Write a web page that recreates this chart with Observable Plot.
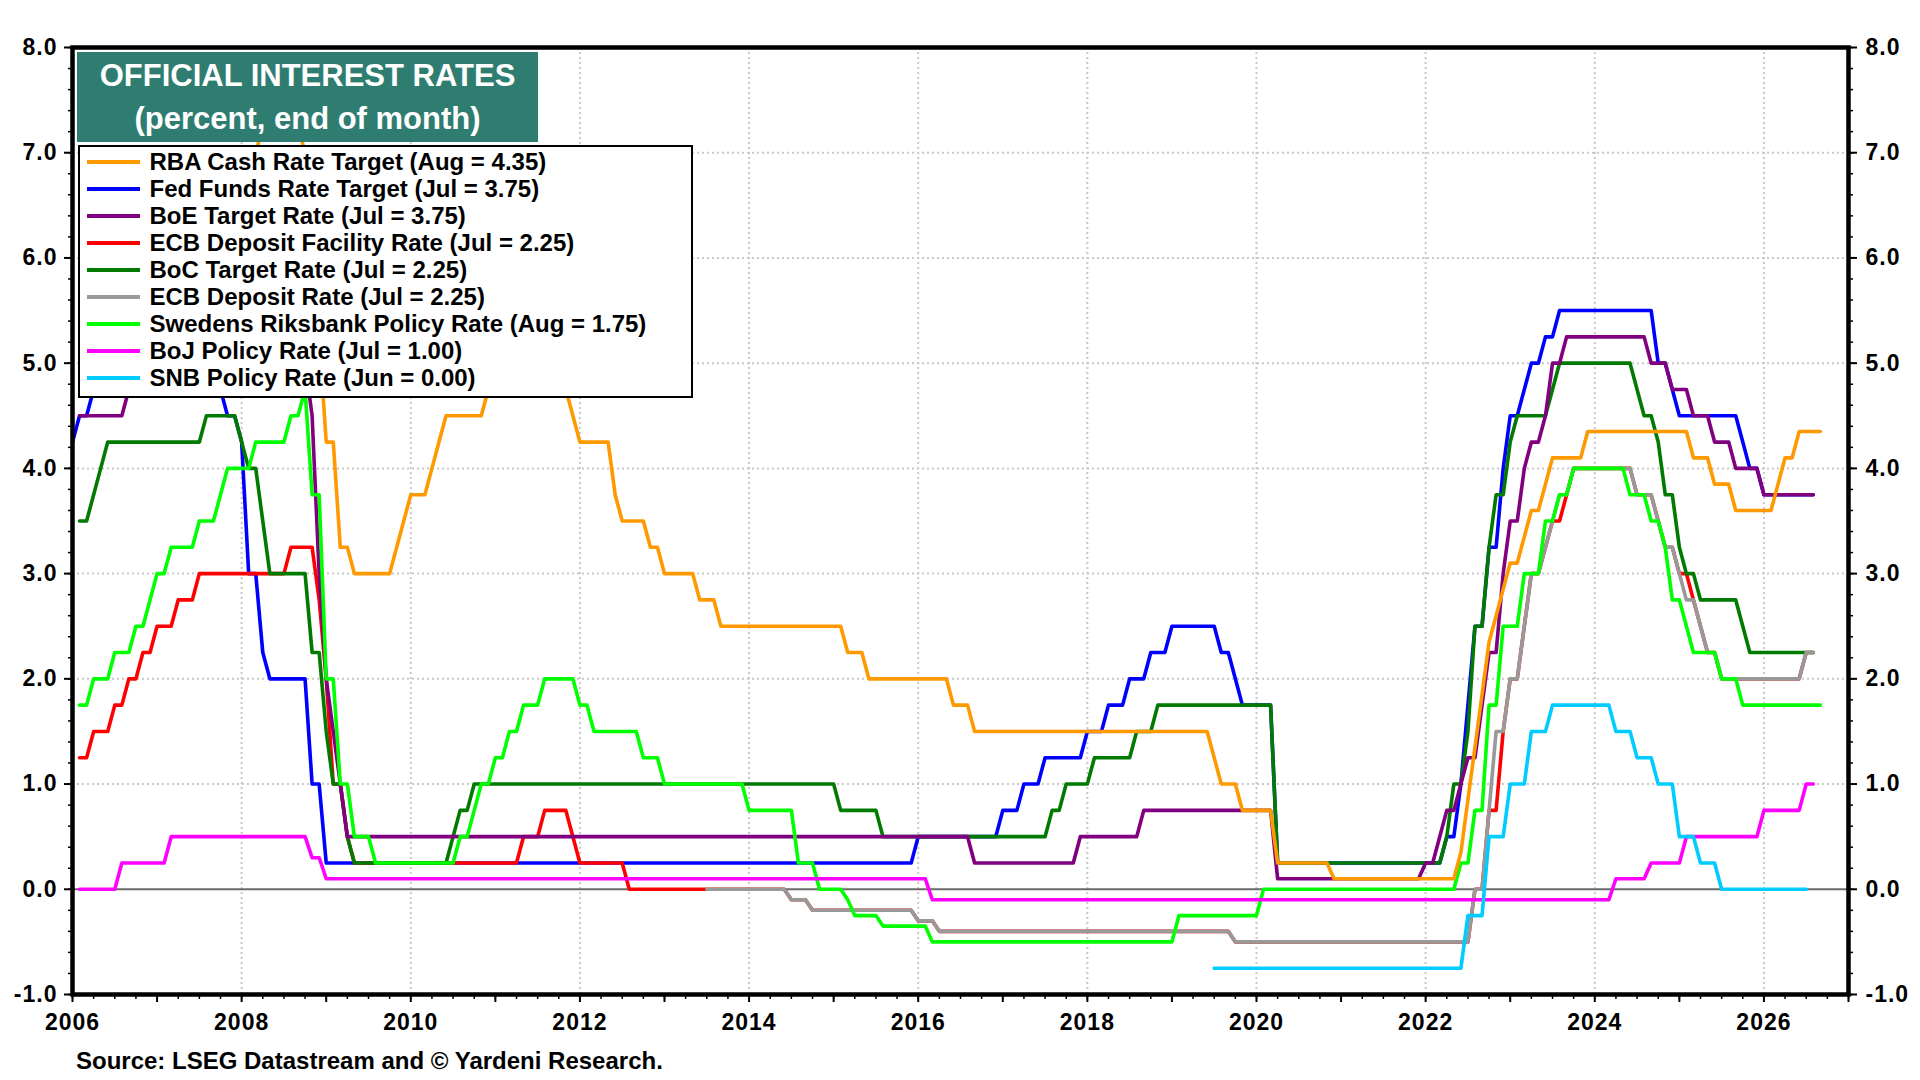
<!DOCTYPE html>
<html>
<head>
<meta charset="utf-8">
<script src="https://cdn.jsdelivr.net/npm/d3@7"></script>
<script src="https://cdn.jsdelivr.net/npm/@observablehq/plot@0.6"></script>
<style>
  html, body { margin: 0; padding: 0; background: #fff; }
  #wrap { position: relative; width: 1920px; height: 1080px; overflow: hidden; background: #fff;
          font-family: "Liberation Sans", Arial, sans-serif; }
  #chart { position: absolute; left: 0; top: 0; }
  #chart svg text { font-weight: bold; letter-spacing: 1px; fill: #000; }
  #title { position: absolute; left: 77px; top: 52px; width: 461px; height: 90px; background: #2E7D70;
           color: #fff; font-weight: bold; font-size: 31px; line-height: 43px; text-align: center;
           padding-top: 2px; box-sizing: border-box; }
  #legend { position: absolute; left: 78px; top: 145px; width: 615px; height: 253px; background: #fff;
            border: 2.5px solid #000; box-sizing: border-box; }
  .row { position: absolute; left: 0; height: 27px; width: 100%; }
  .sw { position: absolute; left: 6.5px; top: 11.5px; width: 53px; height: 4.5px; }
  .lab { position: absolute; left: 69.5px; top: 0; line-height: 27px; font-size: 24px; font-weight: bold;
         color: #000; white-space: nowrap; }
  #source { position: absolute; left: 76px; top: 1049px; font-size: 24px; line-height: 24px; font-weight: bold;
            color: #000; white-space: nowrap; }
</style>
</head>
<body>
<div id="wrap">
  <div id="chart"></div>
  <div id="title">OFFICIAL INTEREST RATES<br>(percent, end of month)</div>
  <div id="legend"></div>
  <div id="source">Source: LSEG Datastream and © Yardeni Research.</div>
</div>
<script>
// ---------------- DATA (vertices of each monthly end-of-month series) ----------------
const rbaRate = [["2006-01",5.50],["2006-04",5.50],["2006-05",5.75],["2006-07",5.75],["2006-08",6.00],["2006-10",6.00],["2006-11",6.25],["2007-07",6.25],["2007-08",6.50],["2007-10",6.50],["2007-11",6.75],["2008-01",6.75],["2008-02",7.00],["2008-03",7.25],["2008-08",7.25],["2008-09",7.00],["2008-10",6.00],["2008-11",5.25],["2008-12",4.25],["2009-01",4.25],["2009-02",3.25],["2009-03",3.25],["2009-04",3.00],["2009-09",3.00],["2009-10",3.25],["2009-11",3.50],["2009-12",3.75],["2010-02",3.75],["2010-03",4.00],["2010-04",4.25],["2010-05",4.50],["2010-10",4.50],["2010-11",4.75],["2011-10",4.75],["2011-11",4.50],["2011-12",4.25],["2012-04",4.25],["2012-05",3.75],["2012-06",3.50],["2012-09",3.50],["2012-10",3.25],["2012-11",3.25],["2012-12",3.00],["2013-04",3.00],["2013-05",2.75],["2013-07",2.75],["2013-08",2.50],["2015-01",2.50],["2015-02",2.25],["2015-04",2.25],["2015-05",2.00],["2016-04",2.00],["2016-05",1.75],["2016-07",1.75],["2016-08",1.50],["2019-05",1.50],["2019-06",1.25],["2019-07",1.00],["2019-09",1.00],["2019-10",0.75],["2020-02",0.75],["2020-03",0.25],["2020-10",0.25],["2020-11",0.10],["2022-04",0.10],["2022-05",0.35],["2022-06",0.85],["2022-07",1.35],["2022-08",1.85],["2022-09",2.35],["2022-10",2.60],["2022-11",2.85],["2022-12",3.10],["2023-01",3.10],["2023-02",3.35],["2023-03",3.60],["2023-04",3.60],["2023-05",3.85],["2023-06",4.10],["2023-10",4.10],["2023-11",4.35],["2025-01",4.35],["2025-02",4.10],["2025-04",4.10],["2025-05",3.85],["2025-07",3.85],["2025-08",3.60],["2026-01",3.60],["2026-02",3.85],["2026-03",4.10],["2026-04",4.10],["2026-05",4.35],["2026-08",4.35]];

const fedRate = [["2005-12",4.25],["2006-01",4.50],["2006-02",4.50],["2006-03",4.75],["2006-04",4.75],["2006-05",5.00],["2006-06",5.25],["2007-08",5.25],["2007-09",4.75],["2007-10",4.50],["2007-11",4.50],["2007-12",4.25],["2008-01",3.00],["2008-02",3.00],["2008-03",2.25],["2008-04",2.00],["2008-09",2.00],["2008-10",1.00],["2008-11",1.00],["2008-12",0.25],["2015-11",0.25],["2015-12",0.50],["2016-11",0.50],["2016-12",0.75],["2017-02",0.75],["2017-03",1.00],["2017-05",1.00],["2017-06",1.25],["2017-11",1.25],["2017-12",1.50],["2018-02",1.50],["2018-03",1.75],["2018-05",1.75],["2018-06",2.00],["2018-08",2.00],["2018-09",2.25],["2018-11",2.25],["2018-12",2.50],["2019-06",2.50],["2019-07",2.25],["2019-08",2.25],["2019-09",2.00],["2019-10",1.75],["2020-02",1.75],["2020-03",0.25],["2022-02",0.25],["2022-03",0.50],["2022-04",0.50],["2022-05",1.00],["2022-06",1.75],["2022-07",2.50],["2022-08",2.50],["2022-09",3.25],["2022-10",3.25],["2022-11",4.00],["2022-12",4.50],["2023-01",4.50],["2023-02",4.75],["2023-03",5.00],["2023-04",5.00],["2023-05",5.25],["2023-06",5.25],["2023-07",5.50],["2024-08",5.50],["2024-09",5.00],["2024-10",5.00],["2024-11",4.75],["2024-12",4.50],["2025-08",4.50],["2025-09",4.25],["2025-10",4.00],["2025-11",4.00],["2025-12",3.75],["2026-07",3.75]];

const boeRate = [["2006-01",4.50],["2006-07",4.50],["2006-08",4.75],["2006-10",4.75],["2006-11",5.00],["2006-12",5.00],["2007-01",5.25],["2007-04",5.25],["2007-05",5.50],["2007-06",5.50],["2007-07",5.75],["2007-11",5.75],["2007-12",5.50],["2008-01",5.50],["2008-02",5.25],["2008-03",5.25],["2008-04",5.00],["2008-09",5.00],["2008-10",4.50],["2008-11",3.00],["2008-12",2.00],["2009-01",1.50],["2009-02",1.00],["2009-03",0.50],["2016-07",0.50],["2016-08",0.25],["2017-10",0.25],["2017-11",0.50],["2018-07",0.50],["2018-08",0.75],["2020-02",0.75],["2020-03",0.10],["2021-11",0.10],["2021-12",0.25],["2022-01",0.25],["2022-02",0.50],["2022-03",0.75],["2022-04",0.75],["2022-05",1.00],["2022-06",1.25],["2022-07",1.25],["2022-08",1.75],["2022-09",2.25],["2022-10",2.25],["2022-11",3.00],["2022-12",3.50],["2023-01",3.50],["2023-02",4.00],["2023-03",4.25],["2023-04",4.25],["2023-05",4.50],["2023-06",5.00],["2023-07",5.00],["2023-08",5.25],["2024-07",5.25],["2024-08",5.00],["2024-10",5.00],["2024-11",4.75],["2025-01",4.75],["2025-02",4.50],["2025-04",4.50],["2025-05",4.25],["2025-07",4.25],["2025-08",4.00],["2025-11",4.00],["2025-12",3.75],["2026-07",3.75]];

const ecbDfRate = [["2006-01",1.25],["2006-02",1.25],["2006-03",1.50],["2006-05",1.50],["2006-06",1.75],["2006-07",1.75],["2006-08",2.00],["2006-09",2.00],["2006-10",2.25],["2006-11",2.25],["2006-12",2.50],["2007-02",2.50],["2007-03",2.75],["2007-05",2.75],["2007-06",3.00],["2008-06",3.00],["2008-07",3.25],["2008-10",3.25],["2008-11",2.75],["2008-12",2.00],["2009-01",1.00],["2009-02",1.00],["2009-03",0.50],["2009-04",0.25],["2011-03",0.25],["2011-04",0.50],["2011-06",0.50],["2011-07",0.75],["2011-10",0.75],["2011-11",0.50],["2011-12",0.25],["2012-06",0.25],["2012-07",0.00],["2014-05",0.00],["2014-06",-0.10],["2014-08",-0.10],["2014-09",-0.20],["2015-11",-0.20],["2015-12",-0.30],["2016-02",-0.30],["2016-03",-0.40],["2019-08",-0.40],["2019-09",-0.50],["2022-06",-0.50],["2022-07",0.00],["2022-08",0.00],["2022-09",0.75],["2022-10",0.75],["2022-11",1.50],["2022-12",2.00],["2023-01",2.00],["2023-02",2.50],["2023-03",3.00],["2023-04",3.00],["2023-05",3.25],["2023-06",3.50],["2023-07",3.50],["2023-08",3.75],["2023-09",4.00],["2024-05",4.00],["2024-06",3.75],["2024-08",3.75],["2024-09",3.50],["2024-10",3.25],["2024-11",3.25],["2024-12",3.00],["2025-01",3.00],["2025-02",2.75],["2025-03",2.50],["2025-04",2.25],["2025-05",2.25],["2025-06",2.00],["2026-05",2.00],["2026-06",2.25],["2026-07",2.25]];

const bocRate = [["2006-01",3.50],["2006-02",3.50],["2006-03",3.75],["2006-04",4.00],["2006-05",4.25],["2007-06",4.25],["2007-07",4.50],["2007-11",4.50],["2007-12",4.25],["2008-01",4.00],["2008-02",4.00],["2008-03",3.50],["2008-04",3.00],["2008-09",3.00],["2008-10",2.25],["2008-11",2.25],["2008-12",1.50],["2009-01",1.00],["2009-02",1.00],["2009-03",0.50],["2009-04",0.25],["2010-05",0.25],["2010-06",0.50],["2010-07",0.75],["2010-08",0.75],["2010-09",1.00],["2014-12",1.00],["2015-01",0.75],["2015-06",0.75],["2015-07",0.50],["2017-06",0.50],["2017-07",0.75],["2017-08",0.75],["2017-09",1.00],["2017-12",1.00],["2018-01",1.25],["2018-06",1.25],["2018-07",1.50],["2018-09",1.50],["2018-10",1.75],["2020-02",1.75],["2020-03",0.25],["2022-02",0.25],["2022-03",0.50],["2022-04",1.00],["2022-05",1.00],["2022-06",1.50],["2022-07",2.50],["2022-08",2.50],["2022-09",3.25],["2022-10",3.75],["2022-11",3.75],["2022-12",4.25],["2023-01",4.50],["2023-05",4.50],["2023-06",4.75],["2023-07",5.00],["2024-05",5.00],["2024-06",4.75],["2024-07",4.50],["2024-08",4.50],["2024-09",4.25],["2024-10",3.75],["2024-11",3.75],["2024-12",3.25],["2025-01",3.00],["2025-02",3.00],["2025-03",2.75],["2025-08",2.75],["2025-09",2.50],["2025-10",2.25],["2026-07",2.25]];

const ecbDepRate = [["2013-06",0.00],["2014-05",0.00],["2014-06",-0.10],["2014-08",-0.10],["2014-09",-0.20],["2015-11",-0.20],["2015-12",-0.30],["2016-02",-0.30],["2016-03",-0.40],["2019-08",-0.40],["2019-09",-0.50],["2022-06",-0.50],["2022-07",0.00],["2022-08",0.00],["2022-09",0.75],["2022-10",1.50],["2022-11",1.50],["2022-12",2.00],["2023-01",2.00],["2023-02",2.50],["2023-03",3.00],["2023-04",3.00],["2023-05",3.25],["2023-06",3.50],["2023-07",3.75],["2023-08",3.75],["2023-09",4.00],["2024-05",4.00],["2024-06",3.75],["2024-08",3.75],["2024-09",3.50],["2024-10",3.25],["2024-11",3.25],["2024-12",3.00],["2025-01",2.75],["2025-02",2.75],["2025-03",2.50],["2025-04",2.25],["2025-05",2.25],["2025-06",2.00],["2026-05",2.00],["2026-06",2.25],["2026-07",2.25]];

const riksRate = [["2006-01",1.75],["2006-02",1.75],["2006-03",2.00],["2006-05",2.00],["2006-06",2.25],["2006-08",2.25],["2006-09",2.50],["2006-10",2.50],["2006-11",2.75],["2006-12",3.00],["2007-01",3.00],["2007-02",3.25],["2007-05",3.25],["2007-06",3.50],["2007-08",3.50],["2007-09",3.75],["2007-10",4.00],["2008-01",4.00],["2008-02",4.25],["2008-06",4.25],["2008-07",4.50],["2008-08",4.50],["2008-09",4.75],["2008-10",3.75],["2008-11",3.75],["2008-12",2.00],["2009-01",2.00],["2009-02",1.00],["2009-03",1.00],["2009-04",0.50],["2009-06",0.50],["2009-07",0.25],["2010-06",0.25],["2010-07",0.50],["2010-08",0.50],["2010-09",0.75],["2010-10",1.00],["2010-11",1.00],["2010-12",1.25],["2011-01",1.25],["2011-02",1.50],["2011-03",1.50],["2011-04",1.75],["2011-06",1.75],["2011-07",2.00],["2011-11",2.00],["2011-12",1.75],["2012-01",1.75],["2012-02",1.50],["2012-08",1.50],["2012-09",1.25],["2012-11",1.25],["2012-12",1.00],["2013-11",1.00],["2013-12",0.75],["2014-06",0.75],["2014-07",0.25],["2014-09",0.25],["2014-10",0.00],["2015-01",0.00],["2015-02",-0.10],["2015-03",-0.25],["2015-06",-0.25],["2015-07",-0.35],["2016-01",-0.35],["2016-02",-0.50],["2018-12",-0.50],["2019-01",-0.25],["2019-12",-0.25],["2020-01",0.00],["2022-04",0.00],["2022-05",0.25],["2022-06",0.25],["2022-07",0.75],["2022-08",0.75],["2022-09",1.75],["2022-10",1.75],["2022-11",2.50],["2023-01",2.50],["2023-02",3.00],["2023-04",3.00],["2023-05",3.50],["2023-06",3.50],["2023-07",3.75],["2023-08",3.75],["2023-09",4.00],["2024-04",4.00],["2024-05",3.75],["2024-07",3.75],["2024-08",3.50],["2024-09",3.50],["2024-10",3.25],["2024-11",2.75],["2024-12",2.75],["2025-01",2.50],["2025-02",2.25],["2025-05",2.25],["2025-06",2.00],["2025-08",2.00],["2025-09",1.75],["2026-08",1.75]];

const bojRate = [["2006-01",0.00],["2006-06",0.00],["2006-07",0.25],["2007-01",0.25],["2007-02",0.50],["2008-09",0.50],["2008-10",0.30],["2008-11",0.30],["2008-12",0.10],["2016-01",0.10],["2016-02",-0.10],["2024-02",-0.10],["2024-03",0.10],["2024-07",0.10],["2024-08",0.25],["2024-12",0.25],["2025-01",0.50],["2025-11",0.50],["2025-12",0.75],["2026-05",0.75],["2026-06",1.00],["2026-07",1.00]];

const snbRate = [["2019-06",-0.75],["2022-05",-0.75],["2022-06",-0.25],["2022-08",-0.25],["2022-09",0.50],["2022-11",0.50],["2022-12",1.00],["2023-02",1.00],["2023-03",1.50],["2023-05",1.50],["2023-06",1.75],["2024-02",1.75],["2024-03",1.50],["2024-05",1.50],["2024-06",1.25],["2024-08",1.25],["2024-09",1.00],["2024-11",1.00],["2024-12",0.50],["2025-02",0.50],["2025-03",0.25],["2025-05",0.25],["2025-06",0.00],["2026-06",0.00]];

const legendLabels = [
  "RBA Cash Rate Target (Aug = 4.35)",
  "Fed Funds Rate Target (Jul = 3.75)",
  "BoE Target Rate (Jul = 3.75)",
  "ECB Deposit Facility Rate (Jul = 2.25)",
  "BoC Target Rate (Jul = 2.25)",
  "ECB Deposit Rate (Jul = 2.25)",
  "Swedens Riksbank Policy Rate (Aug = 1.75)",
  "BoJ Policy Rate (Jul = 1.00)",
  "SNB Policy Rate (Jun = 0.00)"
];
const seriesData = [rbaRate, fedRate, boeRate, ecbDfRate, bocRate, ecbDepRate, riksRate, bojRate, snbRate];
const seriesColors = ["#FF9900", "#0000FF", "#800080", "#FF0000", "#007A00", "#999999", "#00FF00", "#FF00FF", "#00CCFF"];
// drawing order (index into the arrays above), bottom to top
const drawOrder = [1, 3, 4, 2, 5, 6, 0, 7, 8];

const yMajorTicks = [-1, 0, 1, 2, 3, 4, 5, 6, 7, 8];
const yGridTicks = [1, 2, 3, 4, 5, 6, 7];
const xLabelYears = [2006, 2008, 2010, 2012, 2014, 2016, 2018, 2020, 2022, 2024, 2026];
const xGridYears = [2008, 2010, 2012, 2014, 2016, 2018, 2020, 2022, 2024, 2026];

// ---------------- BUILD ----------------
const toT = s => +s.slice(0, 4) + (+s.slice(5, 7)) / 12;
const rows = seriesData.map(arr => arr.map(([d, v]) => ({t: toT(d), v})));

const yMinorTicks = d3.range(0, 46).map(i => -1 + i * 0.2);
const xYearTicks = d3.range(2006, 2028);
const xQuarterTicks = d3.range(0, 85).map(i => 2006 + i * 0.25);

const grid = {stroke: "#c8c8c8", strokeOpacity: 1, strokeWidth: 2, strokeDasharray: "2,3"};

const lineMarks = drawOrder.map(i =>
  Plot.line(rows[i], {x: "t", y: "v", stroke: seriesColors[i], strokeWidth: 3.6, strokeLinejoin: "round"})
);

const chart = Plot.plot({
  width: 1920,
  height: 1040,
  marginLeft: 72,
  marginRight: 72,
  marginTop: 47,
  marginBottom: 46,
  style: {fontFamily: "'Liberation Sans', Arial, sans-serif", background: "white", overflow: "visible"},
  x: {domain: [2006, 2027], axis: null, label: null},
  y: {domain: [-1, 8], axis: null, label: null},
  marks: [
    Plot.gridX(xGridYears, grid),
    Plot.gridY(yGridTicks, grid),
    Plot.ruleY([0], {stroke: "#6a6a6a", strokeWidth: 2}),
    ...lineMarks,
    Plot.axisY(yMinorTicks, {anchor: "left", tickSize: 4, strokeWidth: 1.5, tickFormat: () => "", label: null}),
    Plot.axisY(yMajorTicks, {anchor: "left", tickSize: 8, strokeWidth: 2, tickPadding: 7, fontSize: 23,
      tickFormat: d => d.toFixed(1), label: null}),
    Plot.axisY(yMinorTicks, {anchor: "right", tickSize: 4, strokeWidth: 1.5, tickFormat: () => "", label: null}),
    Plot.axisY(yMajorTicks, {anchor: "right", tickSize: 8, strokeWidth: 2, tickPadding: 9, fontSize: 23,
      tickFormat: d => d.toFixed(1), label: null}),
    Plot.axisX(xQuarterTicks, {anchor: "bottom", tickSize: 5, strokeWidth: 1.5, tickFormat: () => "", label: null}),
    Plot.axisX(xYearTicks, {anchor: "bottom", tickSize: 8, strokeWidth: 2, tickFormat: () => "", label: null}),
    Plot.axisX(xLabelYears, {anchor: "bottom", tickSize: 0, tickPadding: 19, fontSize: 23,
      tickFormat: d => String(d), label: null}),
    Plot.frame({stroke: "#000", strokeWidth: 4.5})
  ]
});
document.getElementById("chart").appendChild(chart);

// ---------------- LEGEND ----------------
const legend = document.getElementById("legend");
legendLabels.forEach((txt, i) => {
  const row = document.createElement("div");
  row.className = "row";
  row.style.top = (1 + i * 27) + "px";
  const sw = document.createElement("span");
  sw.className = "sw";
  sw.style.background = seriesColors[i];
  const lab = document.createElement("span");
  lab.className = "lab";
  lab.textContent = txt;
  row.appendChild(sw);
  row.appendChild(lab);
  legend.appendChild(row);
});
</script>
</body>
</html>
